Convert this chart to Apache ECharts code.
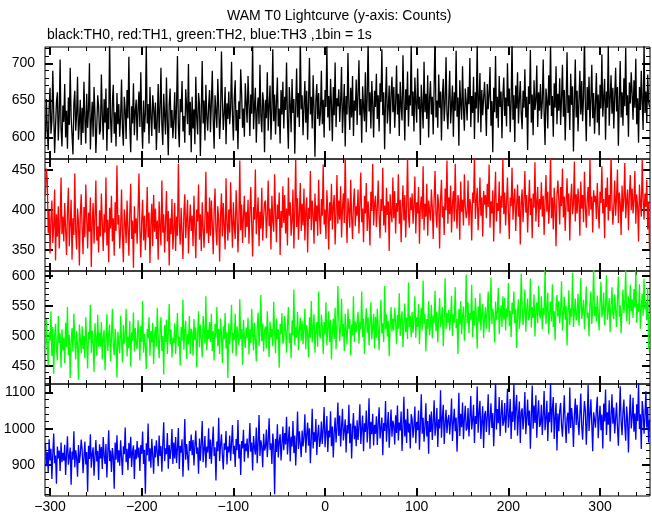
<!DOCTYPE html>
<html><head><meta charset="utf-8">
<script src="https://cdn.jsdelivr.net/npm/echarts@6/dist/echarts.min.js"></script>
<style>html,body{margin:0;padding:0;background:#fff}#c{width:652px;height:515px}</style>
</head><body><div id="c"></div>
<script>
// first bin time in seconds; 1 bin = 1 s
const tStart = -305;

// TH0 (black) counts per 1 s bin
const th0 = [
598,652,611,583,640,667,605,622,690,634,579,615,648,661,596,630,705,612,588,643,
621,672,600,636,585,654,617,694,628,603,577,646,663,609,631,682,597,619,651,590,
640,606,675,625,592,659,613,637,700,584,622,648,601,668,633,579,615,657,642,604,
610,685,631,597,652,620,666,582,640,611,733,626,593,647,671,605,634,588,660,618,
645,601,628,678,612,589,655,637,598,664,626,709,615,580,642,619,673,603,636,651,
596,639,662,614,688,623,585,650,607,633,726,619,645,592,668,628,602,657,640,611,
647,583,625,672,606,638,694,617,590,659,630,604,681,622,576,645,666,613,637,599,
624,661,598,643,710,615,587,652,634,676,608,629,593,665,641,618,699,603,648,580,
655,612,638,591,682,627,604,660,645,575,636,703,619,650,596,671,628,609,643,664,
607,648,690,623,585,657,636,613,679,642,598,628,716,651,610,633,668,591,646,625,
662,618,640,702,631,596,654,677,609,637,584,649,625,692,660,613,639,601,673,646,
620,683,645,602,658,632,727,611,641,667,593,636,654,618,698,629,607,661,645,580,
651,626,688,609,643,670,597,636,719,622,658,604,647,681,615,639,592,664,631,675,
612,655,637,701,624,585,668,646,607,679,633,652,578,641,693,627,660,614,736,638,
657,603,642,676,620,663,597,648,707,631,655,612,684,639,574,650,672,625,660,616,
633,690,618,651,600,664,641,725,627,656,609,679,645,595,668,630,701,614,653,642,
665,621,648,695,606,639,672,588,656,631,714,644,610,667,627,683,602,650,636,678,
617,659,704,630,652,593,669,641,622,688,607,655,731,635,661,612,676,645,600,663,
641,686,625,657,608,673,648,719,630,661,584,652,695,619,640,670,605,658,682,634,
668,613,646,697,631,659,602,675,642,623,711,650,596,665,637,689,615,657,643,726,
629,662,608,681,646,620,693,638,655,590,671,644,612,702,634,659,625,684,600,652,
676,631,655,604,668,742,627,650,613,685,640,662,596,657,679,622,647,708,633,611,
652,690,619,643,670,601,661,636,717,628,654,589,677,645,624,696,640,609,666,648,
623,668,645,707,614,656,633,682,598,661,639,728,620,651,687,607,664,630,653,675,
644,602,672,638,659,695,616,649,580,667,634,710,626,655,613,683,641,662,599,657,
681,629,654,615,700,642,666,607,648,733,624,657,594,670,639,688,619,652,676,632,
611,663,640,692,627,655,583,669,645,718,620,658,603,677,637,650,697,614,661,636,
672,625,648,705,634,590,666,651,612,684,643,727,629,656,601,673,640,696,618,659,
636,680,617,653,698,628,664,596,646,715,633,657,610,686,644,669,581,650,705,627,
663,608,649,690,631,676,622,655,739,640,595,668,637,682,615,652,698,626,660,605,
645,687,620,658,603,671,639,712,628,654,679,597,662,640,725,616,651,684,632,667,
612,656,694,635,668,589,650,703,627,661,616,680,642,721,630,657,601,674,646,688,
659,624,677,640,706,618,653,593,668,637,690,646,610,729,633,662,620,685,648,641
];

// TH1 (red)
const th1 = [
418,452,437,371,399,346,388,412,359,380,426,337,395,367,405,352,384,441,370,392,
361,409,376,344,398,428,355,383,413,338,390,369,446,374,351,402,386,331,395,420,
378,345,404,366,432,389,352,397,373,416,329,384,409,358,391,437,362,380,347,400,
367,421,383,349,395,372,441,356,388,335,403,377,418,361,390,343,410,374,456,382,
394,352,377,426,368,335,401,385,359,412,378,343,396,433,364,387,328,405,371,390,
358,399,446,375,341,388,413,362,393,350,380,429,366,397,334,384,408,355,419,373,
402,364,387,338,411,380,356,437,372,395,347,385,424,361,399,331,390,370,414,351,
376,409,349,392,368,458,384,357,403,372,339,396,420,365,388,413,346,381,407,374,
393,355,418,377,340,401,386,432,363,395,349,410,379,353,389,448,371,398,359,416,
368,412,383,345,399,427,374,356,405,388,336,394,421,367,409,380,351,440,385,362,
401,372,435,390,353,410,381,364,425,396,347,386,462,375,407,359,393,418,366,398,
379,413,358,397,429,383,342,404,388,451,370,393,416,355,398,377,428,362,391,409,
412,365,393,437,380,402,351,418,386,373,445,396,360,407,389,422,344,399,378,430,
384,419,371,402,356,441,393,410,368,387,426,352,400,464,379,415,363,396,434,374,
408,381,427,362,399,416,347,403,389,449,375,412,395,358,421,386,406,368,438,392,
370,414,393,457,382,401,364,425,398,351,410,387,433,376,405,419,357,396,444,383,
412,388,430,366,403,421,384,472,396,359,415,401,378,438,392,364,409,427,380,405,
393,426,371,408,447,385,402,360,418,396,434,374,411,389,356,423,399,458,381,407,
418,379,403,437,392,365,414,399,453,381,406,372,428,394,411,349,420,397,385,441,
390,424,371,409,398,445,383,413,360,402,431,387,419,366,405,467,392,378,416,400,
421,383,406,442,371,410,396,429,358,404,417,389,455,375,408,392,433,368,412,399,
387,426,403,364,415,449,395,378,420,407,352,413,438,391,405,369,427,400,462,383,
416,395,431,372,408,424,386,458,401,377,419,410,363,436,398,413,381,445,405,390,
398,437,381,414,405,362,422,409,470,389,411,428,375,403,441,393,416,367,424,407,
419,390,433,404,457,378,411,396,425,361,414,448,386,409,399,436,371,418,403,466,
395,422,381,410,441,398,364,416,405,453,388,413,427,374,406,432,392,418,357,409,
426,385,412,449,397,419,372,408,438,394,415,365,421,403,460,386,410,429,379,414,
401,435,392,418,369,411,444,398,423,383,407,469,390,416,376,428,404,355,419,437,
413,382,429,405,452,391,417,374,410,440,398,421,362,414,433,395,407,461,386,420,
396,427,411,368,436,402,419,385,448,406,378,414,429,393,466,401,417,372,425,410,
418,389,434,402,377,423,409,455,396,414,365,428,404,441,387,419,399,472,408,382,
405,437,393,416,451,384,422,410,369,431,398,415,459,390,412,426,375,419,444,400,
427,396,413,449,383,420,405,361,432,409,392,464,415,388,421,404,438,376,411,351
];

// TH2 (green)
const th2 = [
470,528,483,451,506,492,541,466,515,437,499,520,478,459,533,488,504,447,511,476,
497,455,522,481,548,468,502,430,490,513,474,537,492,461,508,484,427,519,496,471,
516,478,500,463,531,489,446,507,494,552,472,509,486,440,521,498,467,535,482,505,
482,523,461,498,510,443,491,536,475,503,519,458,497,545,484,468,512,490,431,507,
509,471,533,494,456,518,487,502,545,466,499,480,525,449,506,492,539,474,513,485,
478,526,501,459,517,490,558,472,503,484,445,512,496,531,467,508,489,522,453,500,
515,482,547,496,463,509,531,475,500,436,518,490,527,470,505,553,486,511,464,497,
488,521,470,506,538,483,499,451,515,492,560,477,509,525,462,503,486,533,470,512,
505,467,528,493,514,448,502,541,481,519,496,464,533,507,487,566,476,510,495,523,
490,537,475,508,459,520,497,548,483,512,470,529,502,455,516,494,538,479,506,430,
521,486,510,552,471,505,493,537,466,516,500,484,561,495,512,452,527,499,480,514,
497,530,469,511,488,545,503,476,522,495,458,516,539,483,507,568,491,520,474,509,
516,479,541,502,465,524,498,512,483,557,506,471,529,494,511,447,520,503,538,487,
494,533,510,472,519,548,488,505,463,526,501,577,485,514,497,540,476,509,530,492,
525,486,512,545,478,518,503,464,531,497,558,489,515,536,472,508,523,482,574,501,
496,535,517,470,523,503,556,484,512,541,490,527,461,508,529,495,547,478,516,583,
528,491,514,562,499,520,475,537,507,486,545,512,528,468,519,501,566,490,524,506,
503,540,487,523,511,574,498,529,470,519,546,505,531,484,522,556,494,515,537,479,
532,497,545,513,476,528,560,504,521,490,583,511,536,499,525,466,518,548,507,529,
509,547,523,486,535,512,571,500,527,541,481,519,554,506,530,495,589,514,533,498,
540,505,528,566,497,531,515,553,486,524,547,509,592,520,536,474,528,512,558,501,
517,552,496,534,521,575,508,540,489,529,563,514,531,548,483,526,596,511,538,522,
543,509,531,567,500,536,522,581,513,528,470,545,519,558,503,533,549,492,527,602,
521,556,505,538,527,585,498,542,517,563,532,479,549,524,571,509,535,553,496,530,
548,512,541,574,506,535,597,520,545,530,489,557,526,540,580,503,534,551,515,566,
527,563,509,546,531,588,516,542,498,555,536,574,521,545,480,538,561,512,530,604,
552,518,540,577,507,543,562,526,533,595,514,548,530,569,499,541,556,521,583,535,
529,566,511,547,535,612,520,544,572,503,539,557,524,586,515,541,493,550,568,532,
558,521,544,591,509,537,565,527,550,484,541,576,518,546,532,605,515,540,562,526,
535,570,517,549,596,528,543,560,511,547,582,530,539,499,553,574,520,545,617,533,
549,524,567,538,509,556,590,531,544,572,518,548,601,527,541,563,506,550,581,536,
528,569,543,515,562,599,532,551,504,546,577,538,557,613,525,548,566,519,585,541,
561,530,578,547,609,522,553,540,586,512,548,570,533,595,544,557,526,580,478,538
];

// TH3 (blue)
const th3 = [
958,897,936,880,971,913,945,862,930,987,905,926,849,951,918,940,884,962,908,934,
912,956,873,930,979,901,924,948,846,937,915,993,894,941,920,868,955,906,929,970,
944,878,921,965,902,936,827,953,917,985,893,930,949,871,924,969,910,939,859,957,
918,950,889,977,926,903,958,866,934,996,911,940,881,947,923,835,962,915,982,907,
941,898,968,922,873,952,930,1003,908,945,886,961,919,978,895,937,954,862,943,916,
966,921,948,884,955,931,992,903,942,821,960,927,1014,910,946,893,972,928,876,953,
921,968,934,897,981,925,952,882,959,1018,911,946,930,988,890,955,917,943,999,903,
962,918,977,906,947,1002,889,953,934,971,868,941,1027,915,958,926,885,966,939,984,
927,969,899,954,995,931,948,876,973,912,960,1021,908,944,980,893,951,935,1001,917,
970,904,956,1006,925,949,858,965,938,1030,911,954,985,929,888,960,942,994,902,951,
935,981,912,960,1010,930,953,895,972,941,1024,918,957,873,966,946,997,909,959,938,
973,919,957,1016,937,962,885,980,948,929,1003,905,960,1038,925,968,951,894,986,940,
949,998,922,967,1029,942,960,903,987,954,820,972,936,1012,921,964,985,913,958,1006,
941,988,957,1033,929,970,1006,910,978,951,1021,933,981,899,966,1047,944,993,960,922,
995,951,978,1040,934,984,1017,953,1001,905,973,1055,946,990,964,1027,928,982,1011,950,
968,1020,958,999,1060,949,988,1035,936,995,976,1048,952,1006,921,990,1031,962,1002,1072,
980,1036,951,1004,1055,968,995,1026,935,1010,987,1066,960,1014,918,999,1043,971,1008,952,
1023,969,1008,1067,958,1000,1036,938,1015,991,1050,962,1004,1084,945,1019,985,1041,954,1011,
986,1034,955,1012,1059,973,1002,1031,927,1016,994,1076,964,1008,1046,948,1003,1053,978,1022,
1009,957,1037,988,1064,968,1017,995,1047,939,1005,1088,979,1025,961,1055,990,1014,946,1040,
1027,975,1008,1061,960,1019,996,1050,942,1014,1095,986,1030,964,1006,1070,979,1021,931,1039,
991,1047,969,1018,1078,981,1010,1057,950,1026,1001,1106,975,1031,1066,958,1015,1052,988,1023,
1038,984,1022,1083,966,1017,1055,993,1031,937,1014,1099,980,1041,1004,1072,971,1028,1063,995,
1001,1057,979,1029,1090,998,1024,1066,961,1035,1013,1116,989,1044,1077,972,1021,1062,947,1038,
1049,991,1032,1095,983,1026,1070,1002,1043,952,1029,1131,998,1054,1015,1087,980,1037,1079,1008,
1021,1071,989,1040,1110,1003,1033,1082,972,1047,1019,1125,996,1058,1093,981,1034,1075,961,1046,
1056,998,1037,1101,985,1028,1080,1009,1050,945,1031,1119,1000,1064,1016,1092,975,1041,1078,1005,
1013,1066,983,1035,1104,996,1027,1077,966,1045,1018,1128,990,1055,1087,972,1032,1071,940,1042,
993,1050,1071,1008,978,1036,1092,1016,961,1029,1044,987,1113,1002,1057,1025,950,1038,1083,1010,
1066,1019,982,1040,1097,1006,970,1031,1076,1049,956,1023,1121,994,1036,1081,1012,938,1045,1026,
1003,1052,1088,974,1027,1063,996,1039,946,1069,1020,1108,983,1045,1011,1078,965,1032,1095,1014,
1058,987,1028,1072,1005,953,1036,1117,1019,982,1046,1080,1009,967,1061,1025,935,1034,1094,1001,
1029,1085,992,1042,970,1067,1021,1126,999,1040,944,1076,1050,986,1033,1103,1003,1059,962,1025
];

const seriesNames = ['TH0', 'TH1', 'TH2', 'TH3'];
const seriesColors = ['#000000', '#ff0000', '#00ff00', '#0000ff'];
const xRange = [-305.5, 354.5];
const xMajorTicks = [-300, -200, -100, 0, 100, 200, 300];
const xMinorTicks = [-300,-280,-260,-240,-220,-200,-180,-160,-140,-120,-100,-80,-60,-40,-20,0,20,40,60,80,100,120,140,160,180,200,220,240,260,280,300,320,340];
const yRanges = [[571, 722], [324, 464], [420, 608], [815, 1123]];
const yMajorTicks = [[600, 650, 700], [350, 400, 450], [450, 500, 550, 600], [900, 1000, 1100]];
const yMinorTicks = [
  [580,590,600,610,620,630,640,650,660,670,680,690,700,710,720],
  [330,340,350,360,370,380,390,400,410,420,430,440,450,460],
  [430,440,450,460,470,480,490,500,510,520,530,540,550,560,570,580,590,600],
  [820,840,860,880,900,920,940,960,980,1000,1020,1040,1060,1080,1100,1120]
];

const data = [th0, th1, th2, th3];
const panelTop = [47, 159, 271, 384];
const panelH = [112, 112, 113, 112];
const FONT = 'Liberation Sans, Arial, Helvetica, sans-serif';

const grids = [], xAxes = [], yAxes = [], series = [];
for (let i = 0; i < 4; i++) {
  grids.push({left: 45, right: 2, top: panelTop[i], height: panelH[i], show: true,
    borderColor: '#000', borderWidth: 1, backgroundColor: 'transparent'});
  const xi = xAxes.length, yi = yAxes.length;
  const xAx = (pos, ticks, len, w, labels) => ({
    type: 'value', gridIndex: i, position: pos, min: xRange[0], max: xRange[1],
    axisLine: {show: false, onZero: false}, splitLine: {show: false},
    axisTick: {show: true, inside: true, length: len, customValues: ticks, lineStyle: {color: '#000', width: w}},
    axisLabel: labels ? {show: true, customValues: xMajorTicks, color: '#000', fontSize: 14, fontFamily: FONT, margin: 4,
      formatter: v => (v < 0 ? '\u2212' + Math.abs(v) : String(v))} : {show: false}
  });
  xAxes.push(xAx('bottom', xMinorTicks, 4, 1, i === 3));
  xAxes.push(xAx('bottom', xMajorTicks, 8, 2, false));
  xAxes.push(xAx('top', xMinorTicks, 4, 1, false));
  xAxes.push(xAx('top', xMajorTicks, 8, 2, false));
  const yAx = (pos, ticks, len, w, labels) => ({
    type: 'value', gridIndex: i, position: pos, min: yRanges[i][0], max: yRanges[i][1],
    axisLine: {show: false, onZero: false}, splitLine: {show: false},
    axisTick: {show: true, inside: true, length: len, customValues: ticks, lineStyle: {color: '#000', width: w}},
    axisLabel: labels ? {show: true, customValues: yMajorTicks[i], color: '#000', fontSize: 14, fontFamily: FONT, margin: 10,
      formatter: v => String(v)} : {show: false}
  });
  yAxes.push(yAx('left', yMinorTicks[i], 4, 1, true));
  yAxes.push(yAx('left', yMajorTicks[i], 8, 2, false));
  yAxes.push(yAx('right', yMinorTicks[i], 4, 1, false));
  yAxes.push(yAx('right', yMajorTicks[i], 8, 2, false));
  series.push({
    name: seriesNames[i], type: 'line', xAxisIndex: xi, yAxisIndex: yi,
    data: data[i].map((v, k) => [tStart + k, v]),
    showSymbol: false, symbol: 'none', clip: true, silent: true,
    lineStyle: {width: 1.3, color: seriesColors[i]}, itemStyle: {color: seriesColors[i]}
  });
}

const chart = echarts.init(document.getElementById('c'), null, {renderer: 'canvas'});
chart.setOption({
  animation: false,
  backgroundColor: '#ffffff',
  title: [
    {text: 'WAM T0 Lightcurve (y-axis: Counts)', left: 227, top: 9, padding: 0,
      textStyle: {fontSize: 14, fontWeight: 'normal', color: '#000', fontFamily: FONT}},
    {text: 'black:TH0, red:TH1, green:TH2, blue:TH3 ,1bin = 1s', left: 47, top: 28, padding: 0,
      textStyle: {fontSize: 14, fontWeight: 'normal', color: '#000', fontFamily: FONT}}
  ],
  grid: grids, xAxis: xAxes, yAxis: yAxes, series: series
});
</script>
</body></html>
